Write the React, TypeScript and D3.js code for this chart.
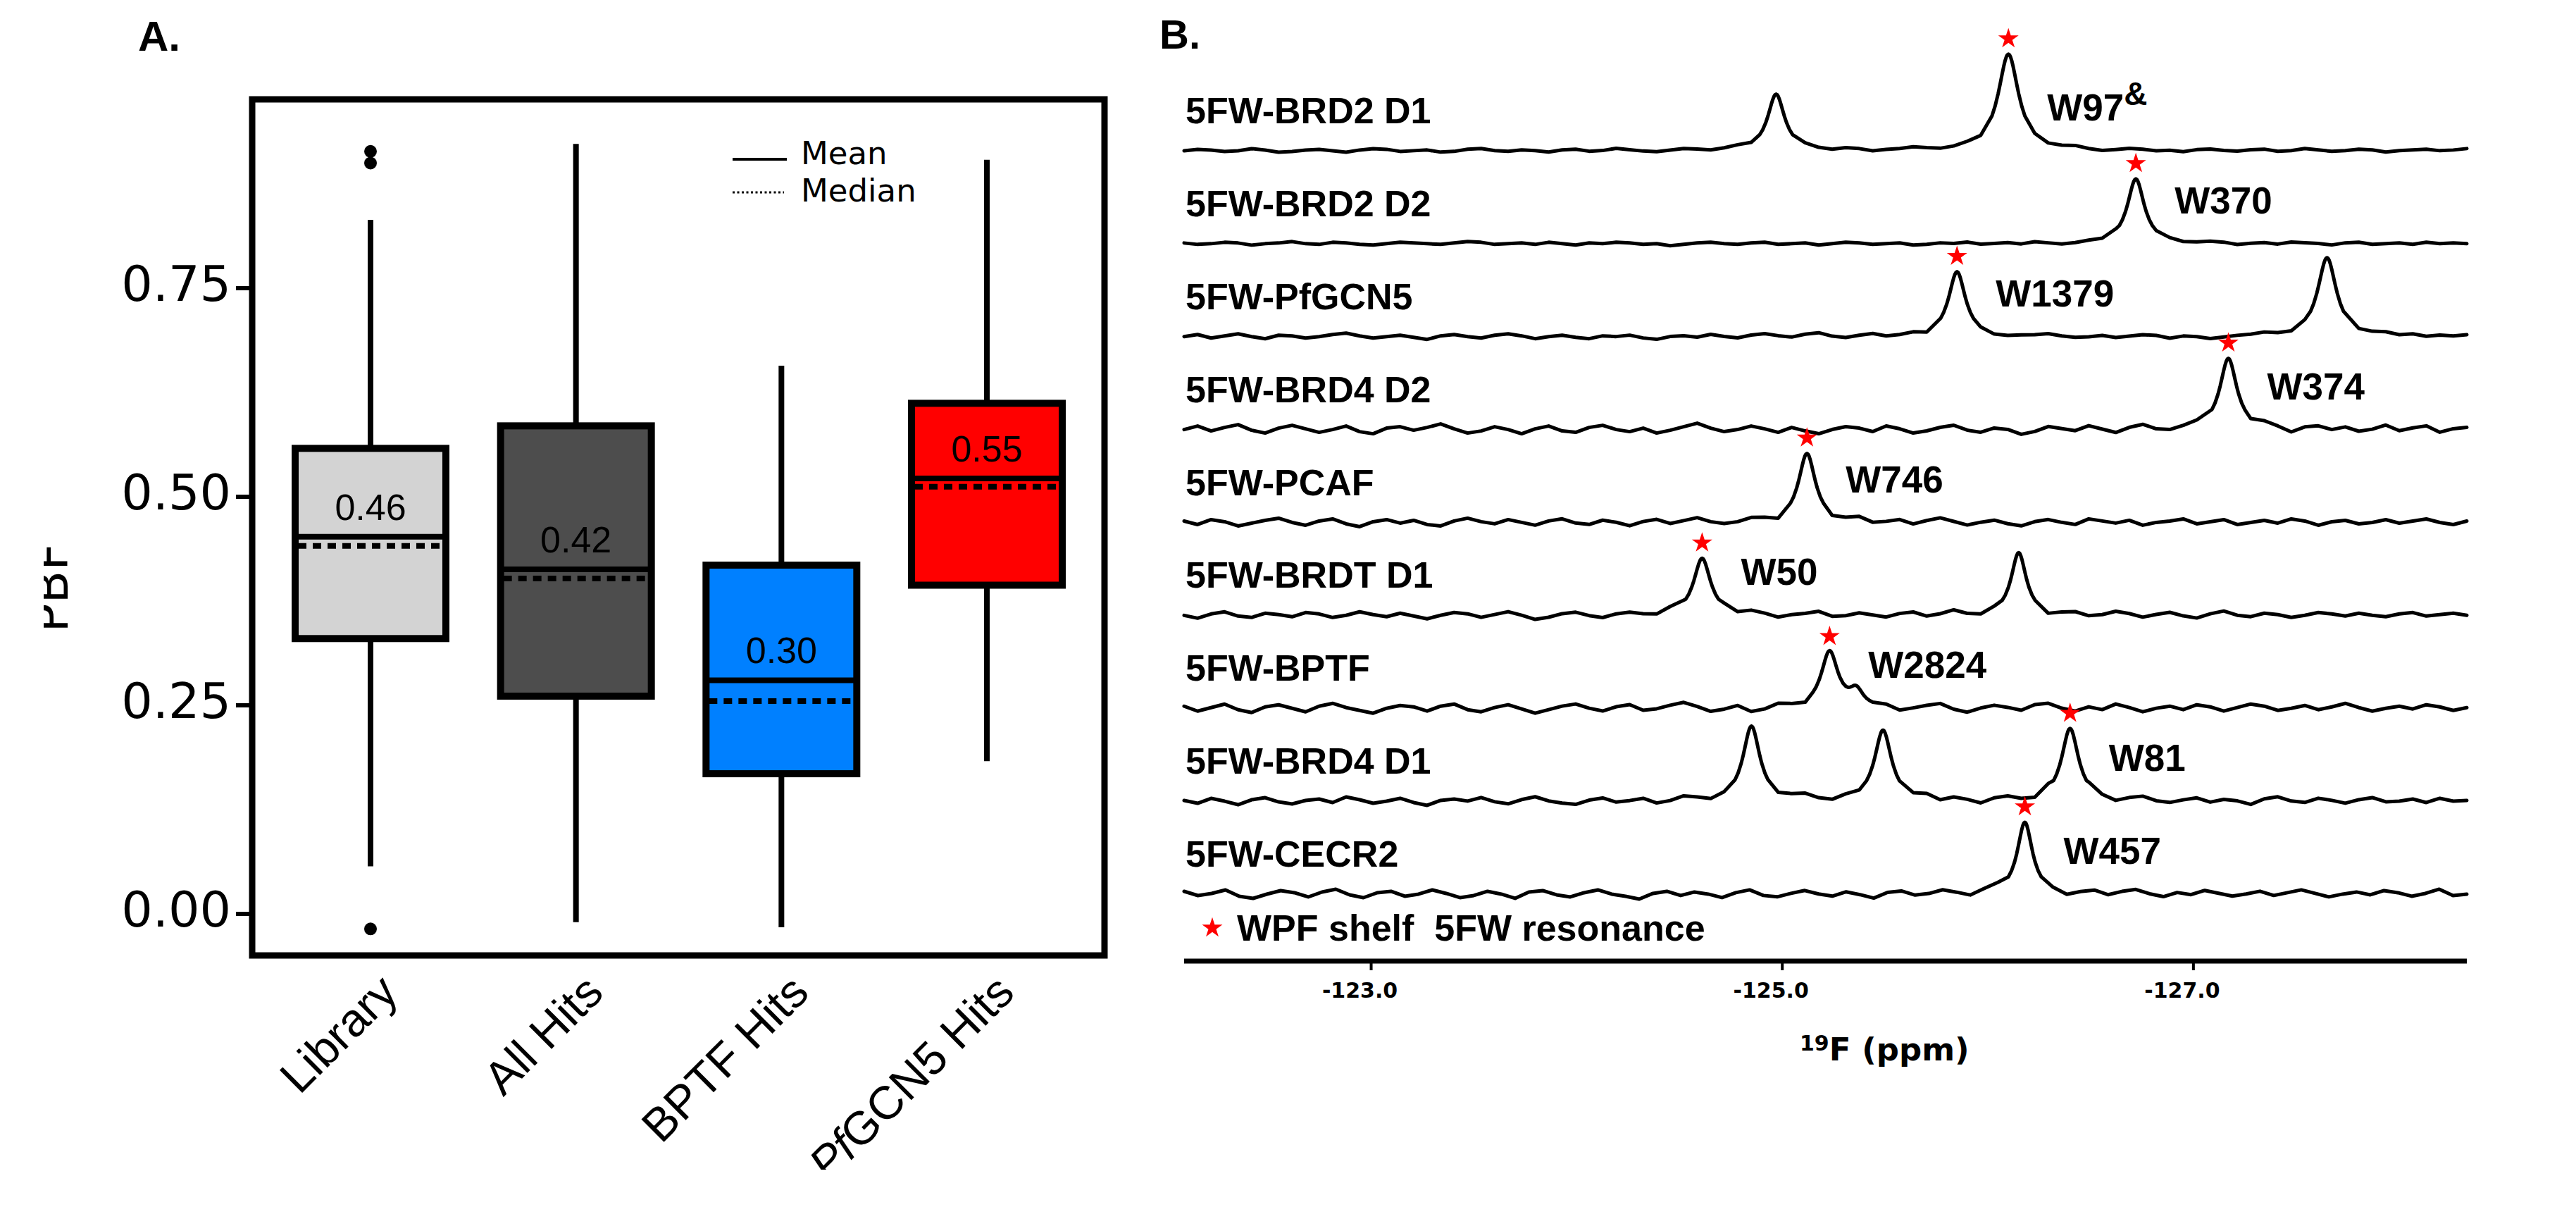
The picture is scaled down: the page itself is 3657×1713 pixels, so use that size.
import React from 'react';
import * as d3 from 'd3';

const W = 3657;
const H = 1713;

// ---------------- Panel A data ----------------
const CATEGORIES = ['Library', 'All Hits', 'BPTF Hits', 'PfGCN5 Hits'];
const Q1 = [0.330, 0.261, 0.168, 0.394];
const Q3 = [0.558, 0.585, 0.418, 0.612];
const MEDIAN = [0.441, 0.402, 0.255, 0.512];
const MEAN = [0.452, 0.413, 0.280, 0.522];
const WHISKER_LOW = [0.057, -0.010, -0.016, 0.183];
const WHISKER_HIGH = [0.832, 0.923, 0.657, 0.904];
const OUTLIERS = [[0.914, 0.900, -0.018], [], [], []];
const MEAN_LABELS = ['0.46', '0.42', '0.30', '0.55'];
const Y_TICKS = [0, 0.25, 0.5, 0.75];
const BOX_COLORS = ['#d3d3d3', '#4d4d4d', '#0080ff', '#ff0000'];

// ---------------- Panel B data ----------------
const PPM_DOMAIN = [-122.09, -128.33];
const PPM_TICKS = [-123, -125, -127];
const TRACE_NAMES = ['5FW-BRD2 D1', '5FW-BRD2 D2', '5FW-PfGCN5', '5FW-BRD4 D2', '5FW-PCAF', '5FW-BRDT D1', '5FW-BPTF', '5FW-BRD4 D1', '5FW-CECR2'];
const RESIDUES = ['W97', 'W370', 'W1379', 'W374', 'W746', 'W50', 'W2824', 'W81', 'W457'];
const RESIDUE_SUP = ['&', '', '', '', '', '', '', '', ''];
const PEAK_PPM = [
  [-124.97, -126.10],
  [-126.72],
  [-125.85, -127.65],
  [-127.17],
  [-125.12],
  [-124.61, -126.15],
  [-125.23, -125.36],
  [-124.85, -125.49, -126.40],
  [-126.18],
];
const PEAK_HEIGHT = [
  [0.80, 1.37],
  [0.92],
  [0.92, 1.12],
  [1.01],
  [0.98],
  [0.81, 0.89],
  [0.80, 0.22],
  [1.06, 1.00, 1.03],
  [1.02],
];
const PEAK_WIDTH = [
  [0.10, 0.12],
  [0.10],
  [0.10, 0.11],
  [0.10],
  [0.10],
  [0.10, 0.09],
  [0.10, 0.08],
  [0.10, 0.10, 0.10],
  [0.09],
];
const WPF_PEAK = [1, 0, 0, 0, 0, 0, 0, 2, 0];

// baseline noise (hundredths of intensity)
const NOISE_BRD2_D1 = [0,2,1,-1,0,3,1,-2,-1,1,2,0,-2,1,3,2,-1,0,1,-2,-1,2,3,0,-1,1,0,-2,1,2,-1,0,3,1,-1,-2,0,2,1,-1,1,3,0,-2,-1,1,2,0,-1,2,1,-2,0,1,3,1,-1,0,2,-1,-2,1,2,0,-1,1,3,0,-2,0,2,1,-1,0,-2,1,2,0,-1,1,2,-1,0,3,1,-1,0,2,1,-2,0,1,2,0,1,3];
const NOISE_BRD2_D2 = [1,-1,0,2,1,-2,0,1,3,0,-1,2,1,-1,-2,0,2,1,0,-1,1,3,2,-1,0,1,-1,2,0,-2,1,0,2,1,-1,0,-3,-1,1,2,0,-1,1,2,-1,0,1,-2,0,2,1,-1,0,1,-2,-1,1,0,2,-1,0,1,-1,2,0,-2,-1,1,0,2,1,-1,0,1,-1,0,2,1,-2,0,1,-1,2,1,0,-2,1,2,-1,0,1,-1,2,0,1,0];
const NOISE_PFGCN5 = [0,3,-2,1,4,0,-3,2,1,-2,0,3,5,1,-2,0,2,-1,-4,1,3,0,-2,2,4,1,-3,0,2,-1,-3,1,0,2,-2,-4,0,1,-1,3,0,-2,2,4,1,-1,3,5,0,-2,1,3,-1,0,2,-3,-2,0,1,-1,-3,-2,0,1,3,0,-2,-1,1,-2,0,2,1,-3,0,-1,-4,-2,0,1,3,0,-2,1,3,0,2,-1,1,3,0,2,-1,1,0,2];
const NOISE_BRD4_D2 = [0,5,-2,3,7,-1,-5,2,6,1,-4,0,5,-3,-6,2,4,-1,3,8,1,-5,-2,4,0,-6,1,5,-2,-4,3,6,0,-3,2,-5,-1,4,9,2,-3,0,5,1,-4,3,-2,-6,0,4,2,-3,5,1,-5,-2,3,6,-1,-4,2,0,-7,-3,4,1,-2,5,0,-5,2,6,-1,-3,1,4,-4,0,3,-2,5,1,-6,2,4,-1,3,-3,0,6,-2,2,5,-4,1,3];
const NOISE_PCAF = [2,-3,4,1,-5,-1,3,6,0,-4,2,5,-2,-6,1,4,-1,3,-3,-5,2,6,1,-2,4,0,-4,2,5,-1,-3,3,0,-5,1,4,-2,2,6,0,-3,-1,4,2,-5,-2,3,0,-4,1,5,-2,0,3,-3,2,6,1,-4,0,3,-2,-5,1,4,0,-3,5,2,-1,3,-4,0,2,5,-2,1,4,-3,0,3,-1,5,2,-4,1,3,-2,0,4,-1,2,5,0,-3,2];
const NOISE_BRDT_D1 = [0,-4,2,5,-1,-3,3,1,-2,4,2,-3,0,5,1,-2,3,-1,-5,0,4,2,-3,1,5,0,-6,-3,2,4,-1,-4,1,3,0,-2,5,2,-3,0,3,-1,4,1,-4,0,2,5,-2,-1,3,0,-3,2,4,-2,1,6,0,-3,2,-1,4,0,-5,1,3,-2,0,5,2,-3,1,4,-1,-4,2,6,0,-2,3,1,-3,0,4,2,-1,3,0,-2,2,4,-1,1,3,0];
const NOISE_BPTF = [3,-4,1,6,-2,-6,2,5,0,-5,3,7,1,-3,-7,0,4,2,-4,3,6,-2,-5,1,5,-1,-7,-2,3,6,0,-4,2,5,-3,-1,4,8,2,-5,-2,3,-6,-3,4,1,-4,2,6,0,-3,5,2,-5,-1,3,6,-2,-6,0,4,1,-3,5,7,0,-4,2,-2,6,1,-5,0,3,-2,5,2,-4,1,6,3,-3,0,4,-2,2,7,1,-4,0,3,-1,5,2,-3,1];
const NOISE_BRD4_D1 = [1,-3,4,0,-5,2,5,-1,-4,1,3,-2,6,2,-3,0,4,-2,-6,1,3,0,5,-1,-4,2,6,0,-3,-5,1,4,-2,0,3,-4,-1,5,2,-3,0,4,1,-5,-2,3,6,0,-3,2,-1,4,0,-4,1,5,-2,3,0,-5,2,4,-1,-3,6,1,-2,3,0,-4,2,5,-1,-3,1,4,-2,2,0,-5,3,6,0,-2,4,1,-3,2,5,-1,0,3,-2,4,0,1];
const NOISE_CECR2 = [4,-2,1,6,-3,-6,0,5,2,-4,3,7,-1,-5,2,4,-3,0,6,1,-5,-2,4,0,-6,3,5,-1,-4,2,6,0,-3,-7,1,4,-2,3,0,-5,2,6,-2,-4,1,5,0,-3,3,-1,-6,2,4,-2,0,5,1,-4,3,6,-1,-3,2,0,-5,1,4,-2,3,6,0,-4,2,-1,5,1,-3,0,4,-2,2,6,1,-4,0,3,-1,5,2,-3,1,7,-2,0];
const NOISE = [NOISE_BRD2_D1, NOISE_BRD2_D2, NOISE_PFGCN5, NOISE_BRD4_D2, NOISE_PCAF, NOISE_BRDT_D1, NOISE_BPTF, NOISE_BRD4_D1, NOISE_CECR2];

// sampling offsets (ppm) used to draw each peak's line shape
const PEAK_SAMPLES = [-0.08, -0.065, -0.05, -0.04, -0.031, -0.023, -0.016, -0.01, -0.005, 0, 0.005, 0.01, 0.016, 0.023, 0.031, 0.04, 0.05, 0.065, 0.08];

const SANS = '"Liberation Sans", Arial, sans-serif';
const DEJAVU = '"DejaVu Sans", Verdana, sans-serif';

function tracePoints(i: number): [number, number][] {
  const noise = NOISE[i];
  const n = noise.length;
  const [d0, d1] = PPM_DOMAIN;
  const peaks = PEAK_PPM[i].map((c, k) => ({ c, h: PEAK_HEIGHT[i][k], w: PEAK_WIDTH[i][k] }));
  const lor = (x: number) => d3.sum(peaks, (p) => p.h / (1 + ((x - p.c) / (p.w / 2)) ** 2));
  const pts: [number, number][] = [];
  noise.forEach((v, k) => {
    const x = d0 + ((d1 - d0) * k) / (n - 1);
    if (peaks.some((p) => Math.abs(x - p.c) < 0.09)) return;
    pts.push([x, v / 100 + lor(x)]);
  });
  peaks.forEach((p) => PEAK_SAMPLES.forEach((o) => pts.push([p.c + o, lor(p.c + o)])));
  pts.sort((a, b) => b[0] - a[0]);
  return pts;
}

function PanelA() {
  const frame = { x: 358, y: 141, w: 1210, h: 1215 };
  const y = d3.scaleLinear().domain([0, 0.75]).range([1297, 409]);
  const x = d3.scalePoint<string>().domain(CATEGORIES).range([526, 1401]);
  const half = 107;
  return (
    <g>
      <defs>
        <clipPath id="clipA">
          <rect x={62} y={0} width={1560} height={1660} />
        </clipPath>
      </defs>
      <text x={196} y={72} fontFamily={SANS} fontWeight="bold" fontSize={60}>A.</text>
      <g clipPath="url(#clipA)">
        <text transform={`translate(96,834) rotate(-90)`} textAnchor="middle" fontFamily={DEJAVU} fontSize={68}>PBF</text>
        {CATEGORIES.map((c) => (
          <text key={c} transform={`translate(${x(c)! + 42},1412) rotate(-45)`} textAnchor="end" fontFamily={SANS} fontSize={66}>
            {c === 'PfGCN5 Hits' ? (
              <>
                <tspan fontStyle="italic">Pf</tspan>
                <tspan>GCN5 Hits</tspan>
              </>
            ) : c}
          </text>
        ))}
      </g>
      {Y_TICKS.map((t) => (
        <g key={t}>
          <line x1={335} x2={354} y1={y(t)} y2={y(t)} stroke="#000" strokeWidth={6} />
          <text x={328} y={y(t) + 18} textAnchor="end" fontFamily={DEJAVU} fontSize={70}>{d3.format('.2f')(t)}</text>
        </g>
      ))}
      {CATEGORIES.map((c, i) => {
        const cx = x(c)!;
        return (
          <g key={c}>
            <line x1={cx} x2={cx} y1={y(WHISKER_HIGH[i])} y2={y(Q3[i])} stroke="#000" strokeWidth={8} />
            <line x1={cx} x2={cx} y1={y(Q1[i])} y2={y(WHISKER_LOW[i])} stroke="#000" strokeWidth={8} />
            <rect x={cx - half} y={y(Q3[i])} width={half * 2} height={y(Q1[i]) - y(Q3[i])} fill={BOX_COLORS[i]} stroke="#000" strokeWidth={10} />
            <line x1={cx - half} x2={cx + half} y1={y(MEAN[i])} y2={y(MEAN[i])} stroke="#000" strokeWidth={8} />
            <line x1={cx - half + 4} x2={cx + half - 4} y1={y(MEDIAN[i])} y2={y(MEDIAN[i])} stroke="#000" strokeWidth={8} strokeDasharray="12,9" />
            <text x={cx} y={y(MEAN[i]) - 24} textAnchor="middle" fontFamily={SANS} fontSize={52}>{MEAN_LABELS[i]}</text>
            {OUTLIERS[i].map((o, k) => (
              <circle key={k} cx={cx} cy={y(o)} r={9} fill="#000" />
            ))}
          </g>
        );
      })}
      <line x1={1040} x2={1117} y1={226} y2={226} stroke="#000" strokeWidth={4} />
      <text x={1137} y={233} fontFamily={DEJAVU} fontSize={45}>Mean</text>
      <line x1={1040} x2={1113} y1={273} y2={273} stroke="#000" strokeWidth={3} strokeDasharray="3,3.5" />
      <text x={1137} y={286} fontFamily={DEJAVU} fontSize={45}>Median</text>
      <rect x={frame.x} y={frame.y} width={frame.w} height={frame.h} fill="none" stroke="#000" strokeWidth={9} />
    </g>
  );
}

function PanelB() {
  const x = d3.scaleLinear().domain(PPM_DOMAIN).range([1681, 3502]);
  const base = d3.scaleLinear().domain([0, TRACE_NAMES.length - 1]).range([214, 1269]);
  const amp = d3.scaleLinear().domain([0, 1]).range([0, 100]);
  const star = d3.symbol().type(d3.symbolStar).size(260)()!;
  const fmt = (v: number) => d3.format('.1f')(v).replace('\u2212', '-');
  const axisY = 1364;
  return (
    <g>
      <text x={1646} y={69} fontFamily={SANS} fontWeight="bold" fontSize={58}>B.</text>
      {TRACE_NAMES.map((name, i) => {
        const b = base(i);
        const line = d3
          .line<[number, number]>()
          .x((d) => x(d[0]))
          .y((d) => b - amp(d[1]))
          .curve(d3.curveLinear);
        const wi = WPF_PEAK[i];
        const pc = PEAK_PPM[i][wi];
        const ph = PEAK_HEIGHT[i][wi];
        return (
          <g key={name}>
            <path d={line(tracePoints(i))!} fill="none" stroke="#000" strokeWidth={5} strokeLinejoin="round" strokeLinecap="round" />
            <text x={1683} y={b - 39} fontFamily={SANS} fontWeight="bold" fontSize={52}>{name}</text>
            <path d={star} transform={`translate(${x(pc)},${b - amp(ph) - 22})`} fill="#ff0000" />
            <text x={x(pc) + 55} y={b - 43} fontFamily={SANS} fontWeight="bold" fontSize={53}>
              {RESIDUES[i]}
              {RESIDUE_SUP[i] ? <tspan dy={-22} fontSize={46}>{RESIDUE_SUP[i]}</tspan> : null}
            </text>
          </g>
        );
      })}
      <path d={star} transform="translate(1721,1317)" fill="#ff0000" />
      <text x={1756} y={1335} fontFamily={SANS} fontWeight="bold" fontSize={52} style={{ whiteSpace: 'pre' }}>WPF shelf  5FW resonance</text>
      <line x1={1681} x2={3502} y1={axisY} y2={axisY} stroke="#000" strokeWidth={7} />
      {PPM_TICKS.map((t) => (
        <g key={t}>
          <line x1={x(t)} x2={x(t)} y1={axisY} y2={axisY + 13} stroke="#000" strokeWidth={4} />
          <text x={x(t) - 16} y={1416} textAnchor="middle" fontFamily={DEJAVU} fontWeight="bold" fontSize={30}>{fmt(t)}</text>
        </g>
      ))}
      <text x={2555} y={1505} fontFamily={DEJAVU} fontWeight="bold" fontSize={45}>
        <tspan fontSize={30} dy={-14}>19</tspan>
        <tspan dy={14}>F (ppm)</tspan>
      </text>
    </g>
  );
}

export default function App() {
  return (
    <svg
      width={W}
      height={H}
      viewBox={`0 0 ${W} ${H}`}
      style={{ position: 'absolute', left: 0, top: 0, background: '#fff' }}
    >
      <rect x={0} y={0} width={W} height={H} fill="#fff" />
      <PanelA />
      <PanelB />
    </svg>
  );
}
